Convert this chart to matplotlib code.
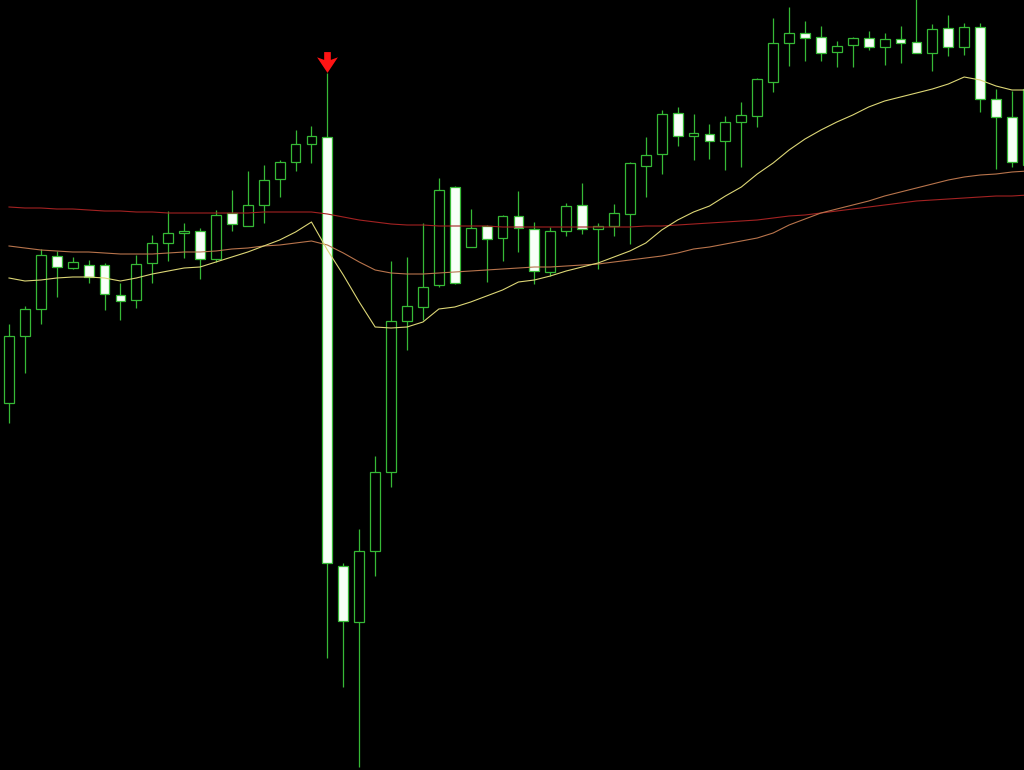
"""Candlestick chart with three moving averages and a sell signal arrow (MT4 style)."""
import numpy as np
import matplotlib.pyplot as plt
from matplotlib.path import Path

# price levels (no axis shown, arbitrary units, higher = up)
PRICE_TOP = 770

# candle rows: open, high, low, close (read in screen units, converted below)
opens_px = [403, 336, 309, 256, 268, 265, 265, 295, 300, 263, 243, 233, 231, 259, 213,
            226, 205, 179, 162, 144, 137, 566, 622, 551, 472, 321, 307, 285, 187, 247,
            226, 238, 216, 229, 272, 231, 205, 229, 226, 214, 166, 154, 113, 136, 134,
            141, 122, 116, 82, 43, 33, 37, 52, 45, 38, 47, 39, 42, 53, 28,
            47, 27, 99, 117, 165]
highs_px = [324, 306, 249, 251, 257, 260, 263, 283, 255, 235, 211, 223, 228, 210, 190,
            171, 165, 160, 130, 126, 73, 563, 529, 456, 261, 257, 223, 178, 186, 209,
            225, 215, 191, 222, 227, 203, 183, 223, 204, 162, 137, 110, 107, 114, 124,
            116, 102, 78, 18, 7, 21, 26, 41, 37, 31, 33, 26, -3, 24, 15,
            23, 23, 89, 91, 85]
lows_px = [423, 373, 324, 297, 269, 283, 310, 320, 308, 283, 261, 258, 279, 262, 231,
           226, 223, 197, 171, 163, 658, 687, 767, 576, 487, 350, 320, 287, 284, 247,
           282, 261, 252, 284, 276, 236, 234, 269, 236, 244, 197, 174, 146, 160, 159,
           170, 167, 127, 92, 66, 61, 61, 67, 67, 50, 65, 63, 53, 71, 56,
           55, 112, 169, 167, 170]
closes_px = [336, 309, 255, 267, 262, 277, 294, 301, 264, 243, 233, 231, 259, 215, 224,
             205, 180, 162, 144, 136, 563, 621, 551, 472, 321, 306, 287, 190, 283, 228,
             239, 216, 228, 271, 231, 206, 229, 226, 213, 163, 155, 114, 136, 133, 141,
             122, 115, 79, 43, 33, 38, 53, 46, 38, 47, 39, 43, 53, 29, 47,
             27, 99, 117, 162, 89]

# moving averages, one value per candle
ma_fast_px = [278, 281, 280, 278, 277, 277, 278, 281, 278, 274, 271, 268, 267, 262, 257,
              252, 246, 240, 232, 222, 250, 275, 302, 327, 328, 327, 322, 309, 307, 302,
              296, 290, 282, 280, 276, 271, 267, 263, 257, 251, 243, 230, 220, 212, 206,
              196, 187, 174, 163, 150, 139, 130, 122, 115, 107, 101, 97, 93, 89, 84,
              77, 80, 86, 90, 90]
ma_mid_px = [246, 248, 250, 251, 252, 252, 253, 254, 254, 254, 253, 252, 252, 251, 249,
             248, 246, 245, 243, 241, 245, 253, 262, 270, 273, 274, 274, 273, 272, 271,
             270, 269, 268, 267, 267, 266, 265, 264, 262, 260, 258, 256, 253, 249, 247,
             244, 241, 238, 233, 225, 219, 213, 209, 205, 201, 196, 192, 188, 184, 180,
             177, 175, 174, 172, 171]
ma_slow_px = [207, 208, 208, 209, 209, 210, 211, 211, 212, 212, 213, 213, 213, 213, 213,
              213, 212, 212, 212, 212, 214, 217, 220, 222, 224, 225, 225, 226, 226, 226,
              226, 227, 227, 227, 227, 227, 227, 227, 227, 227, 226, 226, 225, 224, 223,
              222, 221, 220, 218, 216, 215, 213, 211, 209, 207, 205, 203, 201, 200, 199,
              198, 197, 196, 196, 195]

signal_bar = 20  # candle carrying the red down arrow

opens = PRICE_TOP - np.array(opens_px)
highs = PRICE_TOP - np.array(highs_px)
lows = PRICE_TOP - np.array(lows_px)
closes = PRICE_TOP - np.array(closes_px)
ma_fast = PRICE_TOP - np.array(ma_fast_px)
ma_mid = PRICE_TOP - np.array(ma_mid_px)
ma_slow = PRICE_TOP - np.array(ma_slow_px)
idx = np.arange(len(opens))

GREEN = "#36b936"
BODY_W = 0.62

fig = plt.figure(figsize=(10.24, 7.7), dpi=100, facecolor="black")
ax = fig.add_axes([0, 0, 1, 1])
ax.set_facecolor("black")

# wicks
ax.vlines(idx, lows, highs, color=GREEN, linewidth=0.9, zorder=2)

# bodies: bull = black with green edge, bear = white with green edge
bull = closes >= opens
ax.bar(idx[bull], (closes - opens)[bull], bottom=opens[bull], width=BODY_W,
       color="black", edgecolor=GREEN, linewidth=0.9, zorder=3)
ax.bar(idx[~bull], (closes - opens)[~bull], bottom=opens[~bull], width=BODY_W,
       color="#f8fff8", edgecolor=GREEN, linewidth=0.9, zorder=3)

# moving averages on top of the candles
ax.plot(idx, ma_slow, color="#a32222", linewidth=0.8, zorder=4)
ax.plot(idx, ma_mid, color="#b8744c", linewidth=0.8, zorder=4)
ax.plot(idx, ma_fast, color="#dcd676", linewidth=0.8, zorder=4)

# red arrow marker (down arrow)
arrow = Path([(-0.32, 1.0), (0.32, 1.0), (0.32, 0.25), (1.0, 0.5), (0.0, -1.0),
              (-1.0, 0.5), (-0.32, 0.25), (-0.32, 1.0)], closed=True)
ax.plot(signal_bar, highs[signal_bar] + 11, marker=arrow, markersize=15,
        color="#ff1414", markeredgewidth=0, linestyle="none", zorder=5)

ax.set_xlim(-9 / 15.92, (1024 - 9) / 15.92)
ax.set_ylim(0, PRICE_TOP)
ax.axis("off")

plt.savefig("out.png", dpi=100, facecolor="black")
